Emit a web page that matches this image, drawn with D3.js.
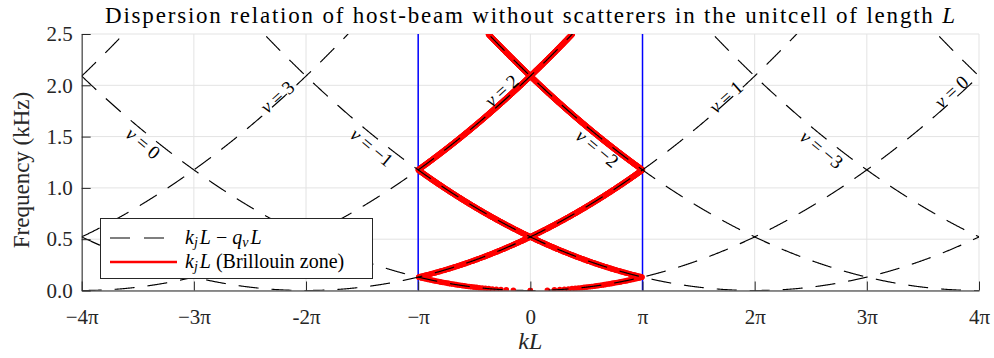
<!DOCTYPE html>
<html>
<head>
<meta charset="utf-8">
<script src="https://cdn.jsdelivr.net/npm/d3@7"></script>
<style>
  html, body { margin: 0; padding: 0; background: #fff; }
  svg { display: block; font-family: "Liberation Serif", "DejaVu Serif", serif; }
</style>
</head>
<body>
<svg id="chart" width="994" height="358"></svg>
<script>
// Host-beam dispersion branch: frequency (kHz) at kL = 0 and kL = 4π
const hostBeamKL = [0, 4 * Math.PI];
const hostBeamFreq = [0, 2.09];

// Folded branch orders ν (dashed curves) and those shown in the Brillouin zone
const branchOrders = [-4, -3, -2, -1, 0, 1, 2, 3, 4];
const zoneOrders = [-2, -1, 0, 1, 2];

// Frequency step (kHz) used when solving for k in the Brillouin zone
const freqStep = 0.003;

// Axis ticks
const xTickValues = [-4, -3, -2, -1, 0, 1, 2, 3, 4];           // in units of π
const xTickLabels = ["\u22124\u03c0", "\u22123\u03c0", "-2\u03c0", "\u2212\u03c0", "0", "\u03c0", "2\u03c0", "3\u03c0", "4\u03c0"];
const yTickValues = [0, 0.5, 1.0, 1.5, 2.0, 2.5];
const yTickLabels = ["0.0", "0.5", "1.0", "1.5", "2.0", "2.5"];

// Branch labels: order, position (kL/π, kHz)
const labelOrders = [3, 0, -1, 2, -2, 1, -3, 0];
const labelKL = [-2.26, -3.45, -1.41, -0.26, 0.60, 1.74, 2.60, 3.75];
const labelFreq = [1.89, 1.44, 1.40, 1.95, 1.39, 1.89, 1.38, 1.94];

const PI = Math.PI;
const svg = d3.select("#chart");
const margin = { left: 81.7, right: 15, top: 34, bottom: 67.5 };
const W = 994, H = 358;

const x = d3.scaleLinear().domain([-4 * PI, 4 * PI]).range([margin.left, W - margin.right]);
const y = d3.scaleLinear().domain([0, 2.5]).range([H - margin.bottom, margin.top]);

// f(k) for the unfolded host beam
const dispersion = d3.scalePow().exponent(2).domain(hostBeamKL).range(hostBeamFreq);
const branchFreq = (k, nu) => dispersion(Math.abs(k + 2 * PI * nu));

const axisColor = "#262626";
const gridColor = "#e3e3e3";

// Clip region for the plot area
svg.append("defs").append("clipPath").attr("id", "plotClip")
  .append("rect")
  .attr("x", x.range()[0]).attr("y", y.range()[1])
  .attr("width", x.range()[1] - x.range()[0])
  .attr("height", y.range()[0] - y.range()[1]);

// Grid
const grid = svg.append("g");
grid.selectAll(".gx").data(xTickValues).join("line")
  .attr("x1", d => x(d * PI)).attr("x2", d => x(d * PI))
  .attr("y1", y.range()[0]).attr("y2", y.range()[1])
  .attr("stroke", gridColor).attr("stroke-width", 1);
grid.selectAll(".gy").data(yTickValues).join("line")
  .attr("x1", x.range()[0]).attr("x2", x.range()[1])
  .attr("y1", d => y(d)).attr("y2", d => y(d))
  .attr("stroke", gridColor).attr("stroke-width", 1);

const plot = svg.append("g").attr("clip-path", "url(#plotClip)");

// Brillouin zone boundaries
plot.selectAll(".zone").data([-PI, PI]).join("line")
  .attr("x1", d => x(d)).attr("x2", d => x(d))
  .attr("y1", y.range()[0]).attr("y2", y.range()[1])
  .attr("stroke", "#0000ff").attr("stroke-width", 1.5);

// Brillouin-zone solutions: for each frequency, wavenumbers inside [-π, π]
const freqGrid = d3.range(0, 2.5 + freqStep / 2, freqStep);
const zonePoints = [];
zoneOrders.forEach(nu => {
  const center = -2 * PI * nu;
  freqGrid.forEach(f => {
    const dk = dispersion.invert(f);
    [center - dk, center + dk].forEach(k => {
      if (k >= -PI - 1e-9 && k <= PI + 1e-9) zonePoints.push({ k, f });
    });
  });
});
plot.append("g").selectAll("circle").data(zonePoints).join("circle")
  .attr("cx", d => x(d.k)).attr("cy", d => y(d.f))
  .attr("r", 2.8).attr("fill", "#ff0000");

// Folded branches k_j L − q_ν L (dashed)
const kSamples = d3.range(-4 * PI, 4 * PI + 1e-9, PI / 200);
const line = d3.line().x(d => x(d[0])).y(d => y(d[1]));
plot.append("g").selectAll("path").data(branchOrders).join("path")
  .attr("d", nu => line(kSamples.map(k => [k, branchFreq(k, nu)]).filter(p => p[1] < 3.2)))
  .attr("fill", "none").attr("stroke", "#000").attr("stroke-width", 1.15)
  .attr("stroke-dasharray", "20,13");

// Axes
const xAxis = d3.axisBottom(x)
  .tickValues(xTickValues.map(d => d * PI))
  .tickFormat((d, i) => xTickLabels[i])
  .tickSizeInner(-9).tickSizeOuter(0).tickPadding(19);
const gx = svg.append("g").attr("transform", `translate(0,${y.range()[0]})`).call(xAxis);
gx.select(".domain").attr("stroke", axisColor);
gx.selectAll(".tick line").attr("stroke", axisColor);
gx.selectAll(".tick text").attr("fill", "#262626").attr("font-size", 21)
  .attr("font-family", "Liberation Serif, serif");

const yAxis = d3.axisLeft(y)
  .tickValues(yTickValues)
  .tickFormat((d, i) => yTickLabels[i])
  .tickSizeInner(-9).tickSizeOuter(0).tickPadding(9);
const gy = svg.append("g").attr("transform", `translate(${x.range()[0]},0)`).call(yAxis);
gy.select(".domain").attr("stroke", axisColor);
gy.selectAll(".tick line").attr("stroke", axisColor);
gy.selectAll(".tick text").attr("fill", "#262626").attr("font-size", 21)
  .attr("font-family", "Liberation Serif, serif");

// Branch labels, rotated along each curve
const labels = svg.append("g").attr("font-size", 19).attr("fill", "#000");
labelOrders.forEach((nu, i) => {
  const k = labelKL[i] * PI, d = 0.02;
  const p1 = [x(k - d), y(branchFreq(k - d, nu))];
  const p2 = [x(k + d), y(branchFreq(k + d, nu))];
  const ang = Math.atan2(p2[1] - p1[1], p2[0] - p1[0]) * 180 / PI;
  const t = labels.append("text")
    .attr("transform", `translate(${x(k)},${y(labelFreq[i])}) rotate(${ang})`)
    .attr("text-anchor", "middle").attr("dominant-baseline", "central");
  t.append("tspan").attr("font-style", "italic").text("\u03bd");
  t.append("tspan").text(" = " + (nu < 0 ? "\u2212" + (-nu) : nu));
});

// Title
const title = svg.append("text")
  .attr("x", 530).attr("y", 23).attr("text-anchor", "middle")
  .attr("font-size", 23).attr("fill", "#000")
  .attr("textLength", 850).attr("lengthAdjust", "spacing");
title.append("tspan").text("Dispersion relation of host-beam without scatterers in the unitcell of length ");
title.append("tspan").attr("font-style", "italic").text("L");

// Axis titles
svg.append("text").attr("x", x(0)).attr("y", 349)
  .attr("text-anchor", "middle").attr("font-size", 24).attr("font-style", "italic").attr("fill", "#262626")
  .text("kL");

svg.append("text")
  .attr("transform", `translate(29,170) rotate(-90)`)
  .attr("text-anchor", "middle").attr("font-size", 23).attr("fill", "#262626")
  .text("Frequency (kHz)");

// Legend
const lg = svg.append("g");
lg.append("rect").attr("x", 100.5).attr("y", 218.5).attr("width", 272).attr("height", 60)
  .attr("fill", "#fff").attr("stroke", "#262626").attr("stroke-width", 1);
lg.append("line").attr("x1", 110).attr("x2", 177).attr("y1", 238).attr("y2", 238)
  .attr("stroke", "#000").attr("stroke-width", 1.15).attr("stroke-dasharray", "20,14");
lg.append("line").attr("x1", 110).attr("x2", 177).attr("y1", 262).attr("y2", 262)
  .attr("stroke", "#ff0000").attr("stroke-width", 2.6);

const lt1 = lg.append("text").attr("x", 185).attr("y", 244).attr("font-size", 20).attr("fill", "#000");
lt1.append("tspan").attr("font-style", "italic").text("k");
lt1.append("tspan").attr("font-style", "italic").attr("font-size", 14).attr("dy", 3).text("j");
lt1.append("tspan").attr("font-style", "italic").attr("dy", -3).attr("dx", 2).text("L");
lt1.append("tspan").text(" \u2212 ");
lt1.append("tspan").attr("font-style", "italic").text("q");
lt1.append("tspan").attr("font-style", "italic").attr("font-size", 14).attr("dy", 3).text("\u03bd");
lt1.append("tspan").attr("font-style", "italic").attr("dy", -3).attr("dx", 2).text("L");

const lt2 = lg.append("text").attr("x", 185).attr("y", 268).attr("font-size", 20).attr("fill", "#000");
lt2.append("tspan").attr("font-style", "italic").text("k");
lt2.append("tspan").attr("font-style", "italic").attr("font-size", 14).attr("dy", 3).text("j");
lt2.append("tspan").attr("font-style", "italic").attr("dy", -3).attr("dx", 2).text("L");
lt2.append("tspan").text(" (Brillouin zone)");
</script>
</body>
</html>
